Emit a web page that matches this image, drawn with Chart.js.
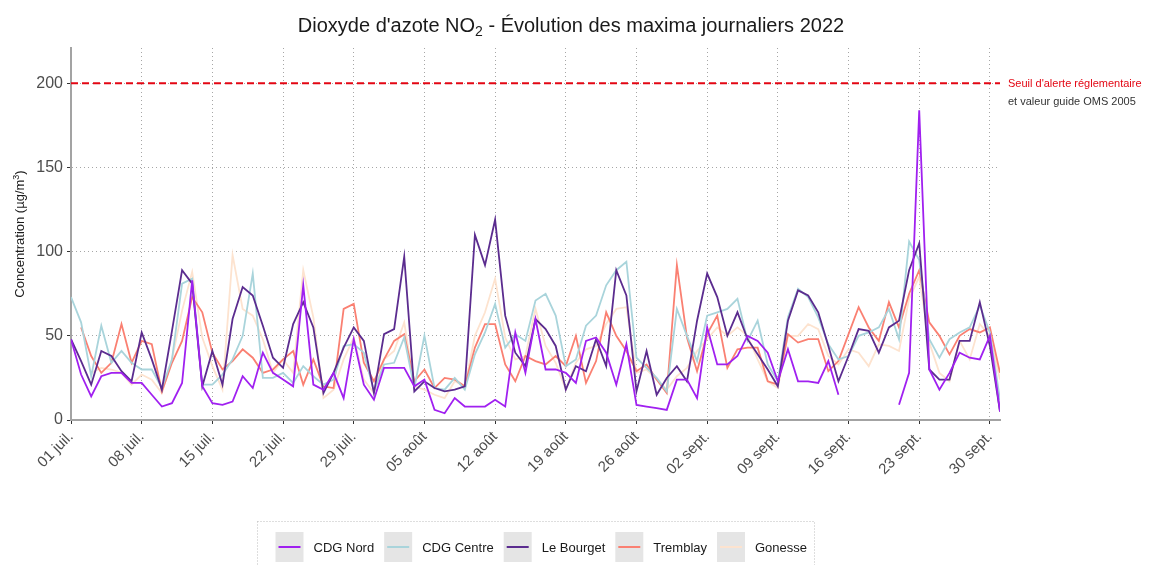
<!DOCTYPE html>
<html>
<head>
<meta charset="utf-8">
<script src="https://cdn.jsdelivr.net/npm/chart.js@4.4.1/dist/chart.umd.min.js"></script>
<style>
  html, body { margin: 0; padding: 0; background: #ffffff; }
  canvas { display: block; }
</style>
</head>
<body>
<canvas id="chart" width="1153" height="565"></canvas>
<script>
// ---------- DATA ----------
// Days from 01 juil. 2022 (index 0) to 01 oct. 2022 (index 92)
const dayCount = 93;
const days = Array.from({ length: dayCount }, (_, i) => i);
const tickLabels = ['01 juil.', '08 juil.', '15 juil.', '22 juil.', '29 juil.', '05 août', '12 août',
  '19 août', '26 août', '02 sept.', '09 sept.', '16 sept.', '23 sept.', '30 sept.'];
const seriesNames = ['CDG Nord', 'CDG Centre', 'Le Bourget', 'Tremblay', 'Gonesse'];

const cdgNord = [48,27,14,26,28,28,22,22,15,8,10,22,83,20,10,9,
  11,26,19,40,28,24,20,80,21,18,28,13,48,21,12,31,
  31,31,20,24,6,4,13,8,8,8,12,8,52,28,60,30,
  30,28,22,47,49,40,21,45,9,8,7,6,24,24,13,55,
  33,33,38,50,47,40,23,42,23,23,22,35,15,null,null,null,null,null,
  9,28,184,30,18,28,40,37,36,50,5];
const cdgCentre = [73,58,26,56,34,41,34,30,30,19,36,81,84,21,21,27,
  36,50,87,25,25,28,22,32,26,21,24,44,45,40,17,33,
  34,49,19,50,19,18,25,18,39,52,69,43,51,47,71,75,
  62,32,36,56,62,80,89,94,37,31,25,17,66,50,35,62,
  64,66,72,47,59,33,23,61,78,73,61,45,36,38,50,52,
  55,66,48,106,95,48,37,48,52,55,68,52,12];
const leBourget = [48,35,21,41,38,29,23,52,36,18,53,89,81,20,41,21,
  60,79,74,56,37,31,57,70,55,16,28,43,55,47,16,51,
  54,97,17,23,19,17,18,20,110,92,119,62,40,32,60,54,
  44,18,32,29,48,32,89,74,17,41,15,25,32,23,59,87,
  73,50,64,48,39,30,20,59,77,74,64,44,23,38,54,53,
  40,55,59,89,105,30,24,24,47,47,70,44,5];
const tremblay = [null,55,38,28,34,57,34,47,45,17,34,47,73,64,40,30,
  35,42,37,28,30,36,41,21,36,20,19,66,69,34,23,36,
  47,51,23,30,19,25,24,20,43,57,57,33,23,38,35,33,
  38,32,50,22,35,64,50,41,29,33,24,16,92,49,29,51,
  62,31,42,43,43,23,21,51,46,48,48,29,35,51,67,55,
  47,70,55,75,89,58,50,39,50,54,52,55,28];
const gonesse = [null,null,28,31,30,28,21,27,24,16,36,65,88,49,32,18,
  98,66,62,48,28,36,28,89,61,13,18,36,49,24,16,36,
  41,58,20,18,15,13,23,20,50,64,84,49,36,38,66,44,
  34,18,34,42,44,57,66,67,28,30,24,18,26,31,41,48,
  55,50,55,50,36,23,19,50,50,57,54,38,33,42,40,32,
  45,44,41,72,85,46,28,23,47,36,57,50,24];
const alertThreshold = 200;
const yTickStep = 50;
const xTickStep = 7;

// ---------- STYLE ----------
const FONT = '"Liberation Sans", Arial, Helvetica, sans-serif';
const colors = ['#A020F0', '#A9D4DB', '#5B2C8F', '#FA8072', '#FDE3CF'];
const drawOrder = [0, 2, 1, 3, 4]; // lower = drawn on top
const seriesData = [cdgNord, cdgCentre, leBourget, tremblay, gonesse];

Chart.defaults.font.family = FONT;

function drawRich(ctx, parts, x, y, align) {
  let total = 0;
  parts.forEach(p => { ctx.font = p.size + 'px ' + FONT; p.w = ctx.measureText(p.t).width; total += p.w; });
  let cx = align === 'center' ? x - total / 2 : x;
  parts.forEach(p => {
    ctx.font = p.size + 'px ' + FONT;
    ctx.fillText(p.t, cx, y + (p.dy || 0));
    cx += p.w;
  });
}

const decorations = {
  id: 'decorations',
  beforeDatasetsDraw(chart) {
    const { ctx, chartArea, scales } = chart;
    const y = scales.y.getPixelForValue(alertThreshold);
    ctx.save();
    ctx.strokeStyle = '#E30613';
    ctx.lineWidth = 2;
    ctx.setLineDash([7, 4]);
    ctx.beginPath();
    ctx.moveTo(chartArea.left, y);
    ctx.lineTo(chartArea.right, y);
    ctx.stroke();
    ctx.restore();
  },
  afterDraw(chart) {
    const { ctx, chartArea, scales } = chart;
    ctx.save();
    // Title
    ctx.fillStyle = '#1A1A1A';
    ctx.textAlign = 'left';
    ctx.textBaseline = 'alphabetic';
    drawRich(ctx, [
      { t: "Dioxyde d'azote NO", size: 20 },
      { t: '2', size: 14, dy: 4 },
      { t: ' - Évolution des maxima journaliers 2022', size: 20 }
    ], 571, 32, 'center');

    // Y axis title
    ctx.save();
    ctx.translate(24, (chartArea.top + chartArea.bottom) / 2);
    ctx.rotate(-Math.PI / 2);
    ctx.fillStyle = '#1A1A1A';
    drawRich(ctx, [
      { t: 'Concentration (µg/m', size: 13 },
      { t: '3', size: 9, dy: -5 },
      { t: ')', size: 13 }
    ], 0, 0, 'center');
    ctx.restore();

    // Threshold labels
    const ty = scales.y.getPixelForValue(alertThreshold);
    ctx.font = '11px ' + FONT;
    ctx.textBaseline = 'middle';
    ctx.fillStyle = '#E30613';
    ctx.fillText("Seuil d'alerte réglementaire", chartArea.right + 8, ty + 1);
    ctx.fillStyle = '#333333';
    ctx.fillText('et valeur guide OMS 2005', chartArea.right + 8, ty + 19);

    // Legend
    ctx.strokeStyle = '#BDBDBD';
    ctx.lineWidth = 1;
    ctx.setLineDash([1, 2]);
    ctx.strokeRect(257.5, 521.5, 557, 60);
    ctx.setLineDash([]);
    const keyW = 28, keyH = 30, keyY = 532;
    let x = 275.5;
    ctx.font = '13px ' + FONT;
    ctx.textBaseline = 'middle';
    chart.data.datasets.forEach((ds) => {
      ctx.fillStyle = '#E5E5E5';
      ctx.fillRect(x, keyY, keyW, keyH);
      ctx.strokeStyle = ds.borderColor;
      ctx.lineWidth = 2;
      ctx.beginPath();
      ctx.moveTo(x + 3, keyY + keyH / 2);
      ctx.lineTo(x + keyW - 3, keyY + keyH / 2);
      ctx.stroke();
      x += keyW + 10;
      ctx.fillStyle = '#1A1A1A';
      ctx.fillText(ds.label, x, keyY + keyH / 2 + 1);
      x += ctx.measureText(ds.label).width + 10;
    });
    ctx.restore();
  }
};

const datasets = seriesNames.map((name, i) => ({
  label: name,
  data: seriesData[i],
  borderColor: colors[i],
  backgroundColor: colors[i],
  borderWidth: 1.8,
  pointRadius: 0,
  pointHoverRadius: 0,
  tension: 0,
  spanGaps: false,
  fill: false,
  order: drawOrder[i]
}));

new Chart(document.getElementById('chart'), {
  type: 'line',
  data: { labels: days, datasets },
  options: {
    responsive: false,
    animation: false,
    devicePixelRatio: 1,
    layout: { padding: { left: 0, top: 48, right: 153, bottom: 0 } },
    plugins: { legend: { display: false }, title: { display: false }, tooltip: { enabled: false } },
    scales: {
      x: {
        type: 'linear',
        min: 0,
        max: dayCount - 1,
        afterFit(s) { s.height = 145; },
        ticks: {
          stepSize: xTickStep,
          includeBounds: false,
          autoSkip: false,
          minRotation: 45,
          maxRotation: 45,
          padding: 4,
          color: '#4D4D4D',
          font: { size: 15 },
          callback: (v) => tickLabels[Math.round(v / xTickStep)]
        },
        grid: { color: '#A6A6A6', lineWidth: 1, tickLength: 4, tickColor: '#333333', tickWidth: 1 },
        border: { display: true, color: '#A3A3A3', width: 2, dash: [1, 3] }
      },
      y: {
        min: 0,
        max: 221,
        afterFit(s) { s.width = 71; },
        ticks: {
          stepSize: yTickStep,
          includeBounds: false,
          padding: 4,
          color: '#4D4D4D',
          font: { size: 16 }
        },
        grid: { color: '#A6A6A6', lineWidth: 1, tickLength: 4, tickColor: '#333333', tickWidth: 1 },
        border: { display: true, color: '#A3A3A3', width: 2, dash: [1, 3] }
      }
    }
  },
  plugins: [decorations]
});
</script>
</body>
</html>
